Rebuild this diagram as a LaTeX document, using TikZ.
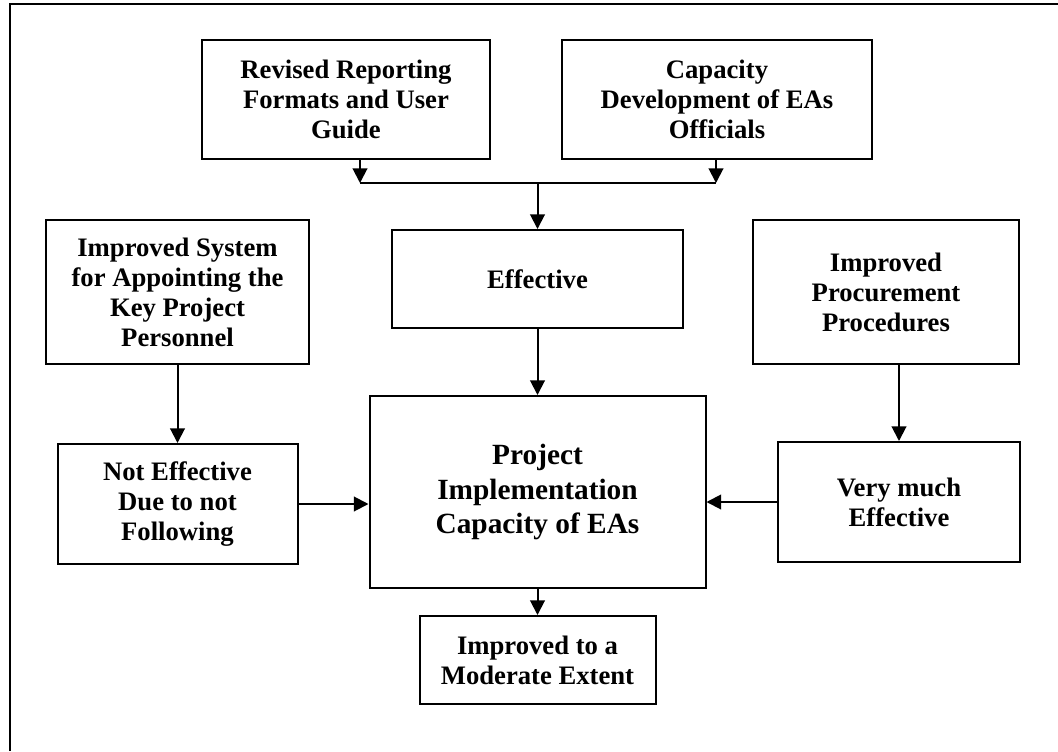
\documentclass[tikz,border=0pt]{standalone}
\usepackage{fontspec}
\setmainfont{Liberation Serif}
\usetikzlibrary{arrows.meta,positioning}

\begin{document}
\begin{tikzpicture}[x=0.75pt,y=-0.75pt,>={Triangle[length=11pt,width=11pt]},
  box/.style={draw,line width=1.5pt,align=center,inner sep=2pt,font=\fontsize{20}{22.5}\selectfont\bfseries},
  core/.style={box,font=\fontsize{22}{26}\selectfont\bfseries},
  link/.style={->,line width=1.5pt}]
  \useasboundingbox (0,0) rectangle (1058,751);
  \draw[line width=2pt] (10,751) -- (10,4) -- (1058,4);
  % top row
  \node[box,minimum width=216pt,minimum height=89.25pt] (rev) at (346,99.5) {Revised Reporting\\Formats and User\\Guide};
  \node[box,minimum width=232.5pt,minimum height=89.25pt] (cap) at (717,99.5) {Capacity\\Development of EAs\\Officials};
  % middle column
  \node[box,minimum width=218.25pt,minimum height=73.5pt] (eff) at (537.5,279) {Effective};
  \node[core,minimum width=252pt,minimum height=144pt,below=49.5pt of eff] (pic) {Project\\Implementation\\Capacity of EAs};
  \node[box,minimum width=177pt,minimum height=66pt,below=19.5pt of pic] (mod) {Improved to a\\Moderate Extent};
  % left column
  \node[box,minimum width=197.25pt,minimum height=108pt] (sys) at (177.5,292) {Improved System\\for Appointing the\\Key Project\\Personnel};
  \node[box,minimum width=180pt,minimum height=90pt,below=58.5pt of sys] (noteff) {Not Effective\\Due to not\\Following};
  % right column
  \node[box,minimum width=199.5pt,minimum height=108pt] (proc) at (886,292) {Improved\\Procurement\\Procedures};
  \node[box,minimum width=181.5pt,minimum height=90pt] (vme) at (899,502) {Very much\\Effective};
  % connectors
  \coordinate (jl) at (360,183); \coordinate (jr) at (716,183);
  \draw[link] (rev.south -| jl) -- (jl);
  \draw[link] (cap.south -| jr) -- (jr);
  \draw[line width=1.5pt] (jl) -- (jr);
  \draw[link] (eff.north |- jl) -- (eff);
  \draw[link] (eff) -- (pic);
  \draw[link] (pic) -- (mod);
  \draw[link] (sys.south -| noteff.north) -- (noteff);
  \draw[link] (proc.south -| vme.north) -- (vme);
  \draw[link] (noteff.east) -- (noteff.east -| pic.west);
  \draw[link] (vme.west) -- (vme.west -| pic.east);
\end{tikzpicture}
\end{document}
